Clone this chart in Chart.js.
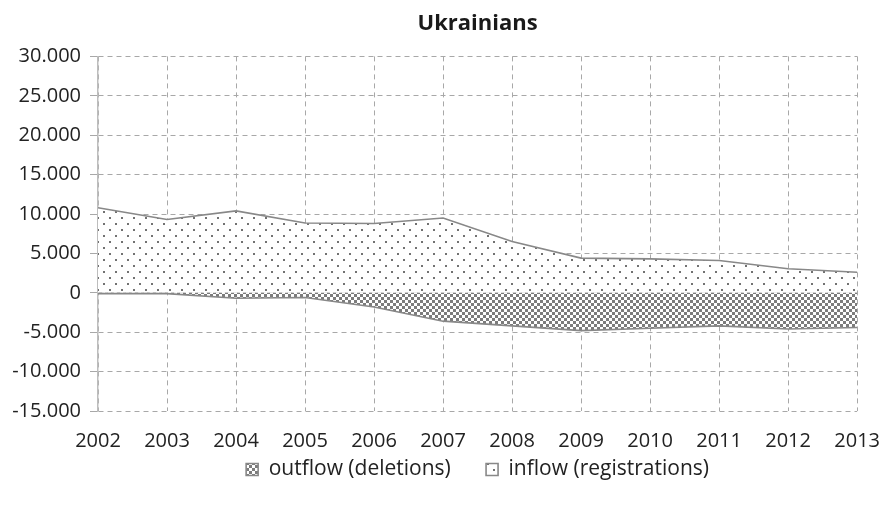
<!DOCTYPE html>
<html>
<head>
<meta charset="utf-8">
<script src="https://cdn.jsdelivr.net/npm/chart.js@4/dist/chart.umd.min.js"></script>
<style>
  html, body { margin: 0; padding: 0; background: #fff; }
  #wrap { width: 884px; height: 505px; }
</style>
</head>
<body>
<div id="wrap"><canvas id="flowChart" width="884" height="505"></canvas></div>
<script>
var years = ['2002', '2003', '2004', '2005', '2006', '2007', '2008', '2009', '2010', '2011', '2012', '2013'];
var inflow = [10800, 9300, 10400, 8850, 8800, 9500, 6500, 4400, 4300, 4100, 3050, 2600];
var outflow = [-100, -100, -700, -600, -1800, -3600, -4200, -4800, -4500, -4200, -4600, -4400];
var yTicks = [-15000, -10000, -5000, 0, 5000, 10000, 15000, 20000, 25000, 30000];

function makePattern(draw, w, h) {
    var c = document.createElement('canvas');
    c.width = w;
    c.height = h;
    var g = c.getContext('2d');
    g.fillStyle = '#fff';
    g.fillRect(0, 0, w, h);
    draw(g);
    return c.getContext('2d').createPattern(c, 'repeat');
}

// dotted fill (registrations)
var dots = makePattern(function (g) {
    g.fillStyle = '#727272';
    g.fillRect(1, 1, 2, 2);
    g.fillRect(7, 7, 2, 2);
}, 12, 12);

// checkerboard fill (deletions)
var checks = makePattern(function (g) {
    g.fillStyle = '#7c7c7c';
    g.fillRect(0, 0, 3, 3);
    g.fillRect(3, 3, 3, 3);
}, 6, 6);

function fmt(v) {
    var s = String(Math.abs(v)).replace(/\B(?=(\d{3})+(?!\d))/g, '.');
    return (v < 0 ? '-' : '') + s;
}

var font = '"Open Sans", "Liberation Sans", sans-serif';

var ctx = document.getElementById('flowChart').getContext('2d');
new Chart(ctx, {
    type: 'line',
    data: {
        labels: years,
        datasets: [{
            label: 'outflow (deletions)',
            data: outflow,
            backgroundColor: checks,
            borderColor: '#888',
            borderWidth: 1.6,
            fill: 'origin',
            pointRadius: 0,
            tension: 0
        }, {
            label: 'inflow (registrations)',
            data: inflow,
            backgroundColor: dots,
            borderColor: '#888',
            borderWidth: 1.6,
            fill: 'origin',
            pointRadius: 0,
            tension: 0
        }]
    },
    options: {
        responsive: false,
        animation: false,
        layout: { padding: { left: 0, right: 0, top: 0, bottom: 15 } },
        plugins: {
            title: {
                display: true,
                fullSize: false,
                text: 'Ukrainians',
                color: '#1a1a1a',
                font: { family: font, size: 22, weight: 'bold' },
                padding: { top: 11, bottom: 19 }
            },
            tooltip: { enabled: false },
            legend: {
                position: 'bottom',
                fullSize: false,
                labels: {
                    boxWidth: 12,
                    boxHeight: 12,
                    padding: 8,
                    color: '#222',
                    font: { family: font, size: 21 },
                    generateLabels: function (chart) {
                        var items = Chart.defaults.plugins.legend.labels.generateLabels(chart);
                        items[0].text = items[0].text + '\u00a0\u00a0\u00a0\u00a0\u00a0';
                        return items;
                    }
                }
            }
        },
        scales: {
            x: {
                offset: false,
                afterFit: function (scale) { scale.height = 40; },
                grid: { color: '#a8a8a8', drawTicks: true, tickLength: 14, tickColor: 'rgba(0,0,0,0)' },
                border: { display: false, dash: [5, 4] },
                ticks: { color: '#222', padding: 4, maxRotation: 0, font: { family: font, size: 20 } }
            },
            y: {
                min: -15000,
                max: 30000,
                afterFit: function (scale) { scale.width = 98; },
                afterBuildTicks: function (scale) {
                    scale.ticks = yTicks.map(function (v) { return { value: v }; });
                },
                grid: { color: '#a8a8a8', tickLength: 8, tickBorderDash: [], tickColor: '#a8a8a8' },
                border: { display: true, color: '#bdbdbd', width: 1.5, dash: [5, 4] },
                ticks: {
                    color: '#222',
                    padding: 9,
                    font: { family: font, size: 20 },
                    callback: function (v) { return fmt(v); }
                }
            }
        }
    }
});
</script>
</body>
</html>
